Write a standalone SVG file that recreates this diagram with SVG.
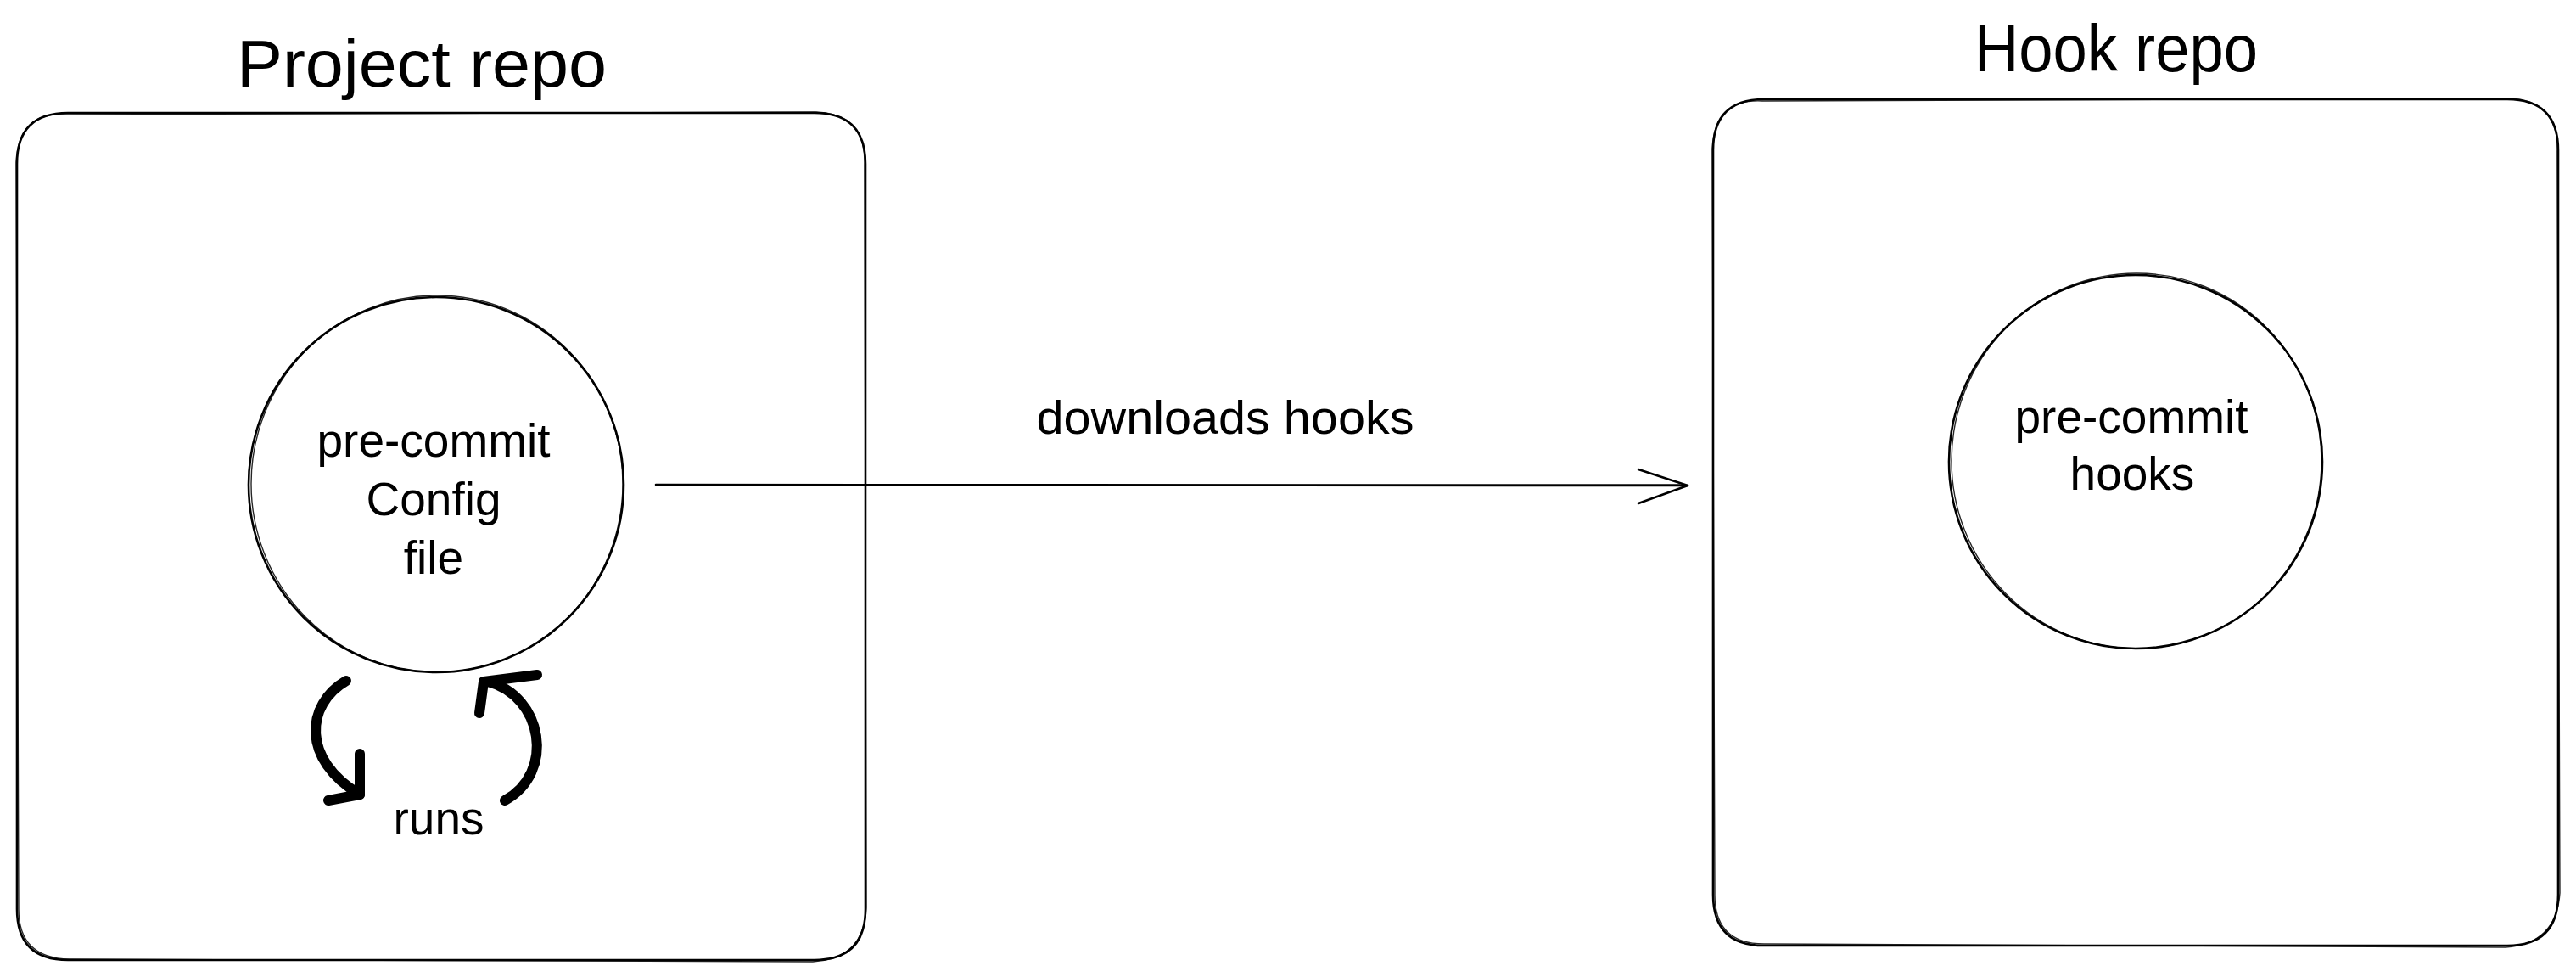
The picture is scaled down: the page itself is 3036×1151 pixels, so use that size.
<svg xmlns="http://www.w3.org/2000/svg" width="3036" height="1151" viewBox="0 0 3036 1151">
<defs>
<style>
.bg{fill:#ffffff}
.sk{fill:none;stroke:#000;stroke-width:2.6;stroke-linecap:round;stroke-linejoin:round}
.sk2{fill:none;stroke:#000;stroke-width:1.4;stroke-linecap:round;stroke-linejoin:round;opacity:0.85}
.thick{fill:none;stroke:#000;stroke-width:12;stroke-linecap:round;stroke-linejoin:round}
.title{font-family:"Liberation Sans",Arial,sans-serif;font-size:78px;fill:#000;text-anchor:middle}
.lbl{font-family:"Liberation Sans",Arial,sans-serif;font-size:55px;fill:#000;text-anchor:middle}
</style>
</defs>
<rect class="bg" x="0" y="0" width="3036" height="1151"/>

<g id="node-project-repo">
<path class="sk" d="M 80 133 L 960 133 Q 1020 133 1020 193 L 1020 1071 Q 1020 1131 960 1131 L 80 1131 Q 20 1131 20 1071 L 20 193 Q 20 133 80 133 Z"/>
<path class="sk2" d="M 78 135 L 962 132 Q 1021 134 1019 195 L 1021 1069 Q 1019 1130 958 1133 L 82 1130 Q 21 1129 22 1069 L 19 191 Q 22 131 78 135"/>
<text class="title" x="497" y="102" textLength="436" lengthAdjust="spacingAndGlyphs">Project repo</text>
</g>

<g id="node-config">
<circle class="sk" cx="514" cy="571" r="221"/>
<ellipse class="sk2" cx="515" cy="570" rx="219" ry="222"/>
<text class="lbl" x="511" y="538">pre-commit</text>
<text class="lbl" x="511" y="607">Config</text>
<text class="lbl" x="511" y="676">file</text>
</g>

<g id="node-hook-repo">
<path class="sk" d="M 2079 117 L 2955 117 Q 3015 117 3015 177 L 3015 1054 Q 3015 1114 2955 1114 L 2079 1114 Q 2019 1114 2019 1054 L 2019 177 Q 2019 117 2079 117 Z"/>
<path class="sk2" d="M 2077 119 L 2957 116 Q 3016 118 3014 179 L 3017 1052 Q 3013 1112 2953 1116 L 2081 1112 Q 2020 1113 2021 1052 L 2018 175 Q 2021 116 2077 119"/>
<text class="title" x="2494" y="84" textLength="334" lengthAdjust="spacingAndGlyphs">Hook repo</text>
</g>

<g id="node-hooks">
<circle class="sk" cx="2517" cy="544" r="220"/>
<ellipse class="sk2" cx="2518" cy="543" rx="218" ry="221"/>
<text class="lbl" x="2512" y="510">pre-commit</text>
<text class="lbl" x="2513" y="577">hooks</text>
</g>

<g id="connectors">
<g id="edge-downloads">
<path class="sk" d="M 773 571 L 1989 572"/>
<path class="sk2" d="M 900 572 L 1980 571"/>
<path class="sk" d="M 1931 553 L 1989 572 L 1931 593"/>
<text class="lbl" x="1444" y="511" textLength="445" lengthAdjust="spacingAndGlyphs">downloads hooks</text>
</g>
<g id="edge-runs">
<path class="thick" d="M 408 802 C 360 830 355 895 424 936"/>
<path class="thick" d="M 424 888 L 424 936 L 387 943"/>
<path class="thick" d="M 595 943 C 655 910 640 820 575 803"/>
<path class="thick" d="M 565 840 L 570 803 L 633 795"/>
<text class="lbl" x="517" y="983">runs</text>
</g>
</g>
</svg>
